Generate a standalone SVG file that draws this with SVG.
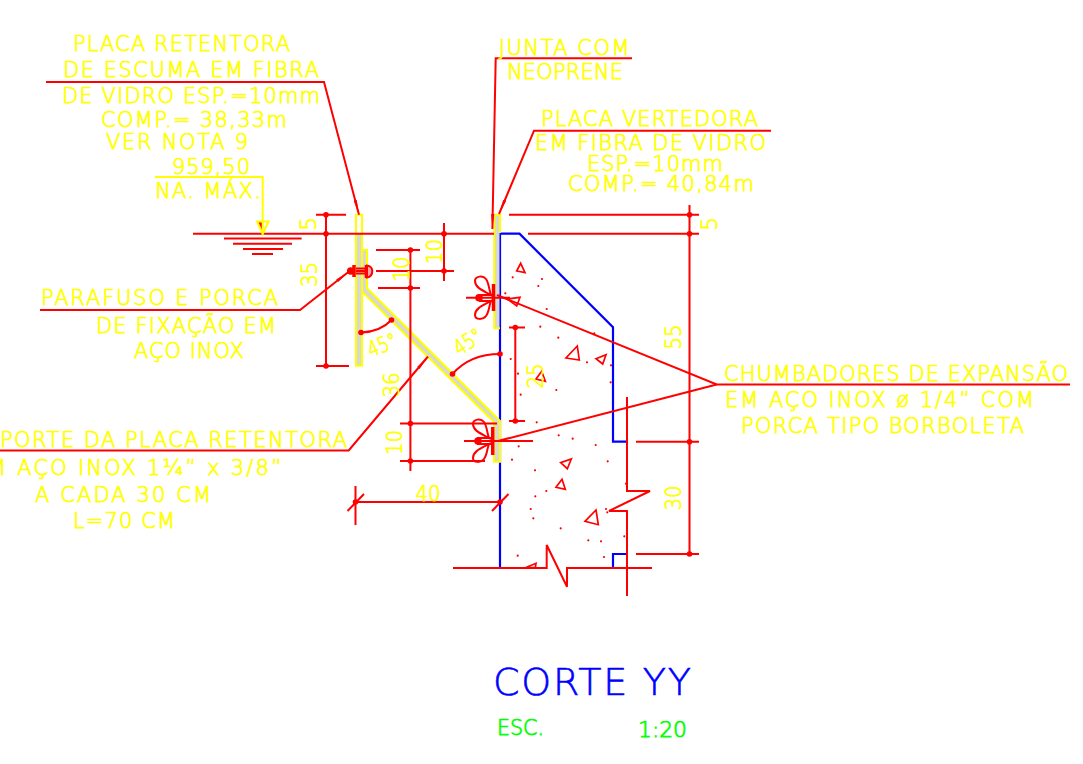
<svg xmlns="http://www.w3.org/2000/svg" width="1083" height="764" viewBox="0 0 1083 764">
<defs>
<style>
text{font-family:"DejaVu Sans","Liberation Sans",sans-serif;font-weight:200;fill:#ffff00;stroke:#ffff00;stroke-width:.75;font-size:21px}
.dim{font-size:21.5px;text-anchor:middle}
.ln{fill:none;stroke:#ff0000;stroke-width:2}
.blue{fill:none;stroke:#0000ff;stroke-width:2.2}
.plate{fill:#d8d8d8;stroke:#ffff00;stroke-width:2}
.yl{fill:none;stroke:#ffff00;stroke-width:2}
.tri{fill:none;stroke:#ff0000;stroke-width:1.7}
.d{fill:#ff0000}
.t-blue{font-size:38px;fill:#0000ff;stroke:#0000ff;stroke-width:.6}
.t-green{fill:#00ff00;stroke:#00ff00}
</style>
<marker id="arr" markerUnits="userSpaceOnUse" markerWidth="16" markerHeight="6" refX="15" refY="3" orient="auto"><path d="M0 1.4L15 3L0 4.6Z" fill="#ff0000"/></marker>
<g id="dot"><circle r="2.8" class="d"/></g>
<g id="pt"><circle r="1.1" class="d"/></g>
</defs>
<rect width="1083" height="764" fill="#ffffff"/>

<g id="concrete">
<path class="blue" d="M500 568V233.7H519.5L613 327.3V441.7H627"/>
<path class="blue" d="M613 568V554H627"/>
<g id="aggregate-triangles" class="tri">
<polygon points="520.7,263.3 525,272.7 516.7,271"/>
<polygon points="520,297.3 516.7,306 507.3,299"/>
<polygon points="577.3,346 579.3,360 566,358"/>
<polygon points="606,354.7 602.7,364 596,358.7"/>
<polygon points="541.7,371.3 545.3,381.3 536,379"/>
<polygon points="571.3,459 567.3,468.7 560.7,462.7"/>
<polygon points="562,479.3 565.3,489.3 556,487.3"/>
<polygon points="596,510 598.3,524.7 585,521.3"/>
<polygon points="536,563.3 535.3,567.7 525.3,567.7"/>
</g>
<g id="aggregate-dots">
<use href="#pt" x="512.7" y="277.3"/><use href="#pt" x="542" y="279"/><use href="#pt" x="538.3" y="286"/><use href="#pt" x="505.3" y="293.3"/><use href="#pt" x="546.7" y="309"/><use href="#pt" x="540.3" y="326.7"/><use href="#pt" x="558.3" y="337.7"/><use href="#pt" x="594.3" y="333.3"/><use href="#pt" x="510.7" y="359"/><use href="#pt" x="518" y="373.7"/><use href="#pt" x="520.7" y="394.7"/><use href="#pt" x="556.3" y="390"/><use href="#pt" x="587" y="362.3"/><use href="#pt" x="611" y="365.3"/><use href="#pt" x="610.7" y="382.3"/><use href="#pt" x="536.7" y="422.3"/><use href="#pt" x="558.7" y="435.3"/><use href="#pt" x="572.7" y="438.7"/>
<use href="#pt" x="518.7" y="446.3"/><use href="#pt" x="595.7" y="445"/><use href="#pt" x="512" y="459.7"/><use href="#pt" x="607.7" y="461.3"/><use href="#pt" x="535" y="470.3"/><use href="#pt" x="626" y="483.7"/><use href="#pt" x="535.3" y="496.3"/><use href="#pt" x="546.3" y="491"/><use href="#pt" x="530.7" y="509"/><use href="#pt" x="533.3" y="518.3"/><use href="#pt" x="560.7" y="528.3"/><use href="#pt" x="606" y="509"/><use href="#pt" x="607.3" y="512.3"/><use href="#pt" x="588.3" y="540.3"/><use href="#pt" x="601" y="541.3"/><use href="#pt" x="624.3" y="536.3"/><use href="#pt" x="604" y="557"/><use href="#pt" x="517.7" y="555.7"/>
</g>
<path class="ln" d="M453 568H546.7V545L567 586.7V568H652"/>
<path class="ln" d="M627 397V491H650L609 511H627V596"/>
</g>

<g id="plates">
<path fill="#d8d8d8" d="M356.5 233H361.5V365H356.5Z"/>
<rect class="yl" x="356" y="214.7" width="6" height="151"/>
<path class="plate" d="M362 250H367V288.3L500 421V461.7H494V422L362 291.7Z"/>
<path fill="#d8d8d8" d="M494.7 215H499.5V328H494.7Z"/>
<path class="yl" d="M500 233V214.7H494.3V328.3H500"/>
</g>

<g id="bolt-left" class="ln">
<path d="M354 265V277" stroke-width="3.5"/>
<path d="M356 268.5H366M356 271H366M356 273.5H366"/>
<path d="M366 265V278" stroke-width="2.6"/>
<path d="M367 265.5C374 266 374 276.5 367 277.5Z" fill="#ff0000" fill-opacity=".35"/>
<use href="#dot" x="350.7" y="271"/>
</g>
<g id="wingnut-top" class="ln">
<path d="M493.5 284V311" stroke-width="3.5"/>
<path d="M466 297.7H510"/>
<path d="M479 295H492M479 301H492"/>
<path d="M491 295C484 291 475 288 475 281C475 276 483 275 486 279C489 283 489 290 491 295Z"/>
<path d="M491 301C484 305 475 308 475 315C475 320 483 320 486 316C489 312 489 306 491 301Z"/>
<use href="#dot" x="479" y="297.7"/>
</g>
<g id="wingnut-bottom" class="ln">
<path d="M492.7 427V455" stroke-width="3.5"/>
<path d="M464 441H533"/>
<path d="M477 438H491M477 444H491"/>
<path d="M489 438C482 434 473 431 473 424C473 419 481 418 484 422C487 426 487 433 489 438Z"/>
<path d="M489 444C482 448 473 451 473 458C473 463 481 463 484 459C487 455 487 449 489 444Z"/>
<use href="#dot" x="478" y="441"/>
</g>

<g id="connectors">
<g class="ln">
<path d="M46 82H324L359 214.7" marker-end="url(#arr)"/>
<path d="M632 58.3H495.7L492.4 229" marker-end="url(#arr)"/>
<path d="M771 130.7H534L499 214" marker-end="url(#arr)"/>
<path d="M40 310H300L349 271.5" marker-end="url(#arr)"/>
<path d="M0 450.5H348.7L428 356.5" marker-end="url(#arr)"/>
<path d="M1070 384.5H716.7L497 295"/>
<path d="M716.7 384.5L498 441"/>
</g>
</g>

<g id="water-level">
<path class="ln" d="M193 233.7H494"/>
<path class="ln" d="M224 238.5H301.6M233 243.7H292M243 249H283M252 254H273"/>
<path fill="#ff0000" d="M258 222H262L262.7 232Z"/>
<path class="yl" d="M155 177H262.7V233"/>
<path class="yl" d="M257 221.5H268.5L262.7 234Z"/>
</g>

<g id="dimensions">
<g class="ln">
<path d="M316 214.7H346M326 214.7V366M316 366H349"/>
<path d="M444 223V281M376 271H454"/>
<path d="M410.4 250V471M376 250H420M378 288H420M400 423.5H497M400 461H485"/>
<path d="M515.3 327.5V421M509 327.5H525M509 421H525"/>
<path d="M689.5 205V556M509 214.7H699M528 233.7H699M636 441.7H699M636 554H699"/>
<path d="M355.5 502H500M355.5 486V525M347.5 511L364 494M492 511L508.5 494"/>
<path d="M361 332.5Q380 332 391.5 320"/>
<path d="M452.5 374Q470 354 500 354"/>
</g>
<use href="#dot" x="326" y="214.7"/><use href="#dot" x="326" y="233.7"/><use href="#dot" x="326" y="366"/>
<use href="#dot" x="444" y="233.7"/><use href="#dot" x="444" y="271"/>
<use href="#dot" x="410.4" y="250"/><use href="#dot" x="410.4" y="288"/><use href="#dot" x="410.4" y="423.5"/><use href="#dot" x="410.4" y="461"/>
<use href="#dot" x="515.3" y="327.5"/><use href="#dot" x="515.3" y="421"/>
<use href="#dot" x="689.5" y="214.7"/><use href="#dot" x="689.5" y="233.7"/><use href="#dot" x="689.5" y="441.7"/><use href="#dot" x="689.5" y="554"/>
<use href="#dot" x="355.5" y="502"/><use href="#dot" x="500" y="502"/>
<use href="#dot" x="361" y="332.5"/><use href="#dot" x="391.5" y="320"/><use href="#dot" x="452.5" y="374"/><use href="#dot" x="500" y="354"/>
<text class="dim" transform="translate(316 224) rotate(-90)">5</text>
<text class="dim" transform="translate(316.5 274.5) rotate(-90)" textLength="25" lengthAdjust="spacingAndGlyphs">35</text>
<text class="dim" transform="translate(409 269) rotate(-90)" textLength="25" lengthAdjust="spacingAndGlyphs">10</text>
<text class="dim" transform="translate(441.7 251.5) rotate(-90)" textLength="25" lengthAdjust="spacingAndGlyphs">10</text>
<text class="dim" transform="translate(399 385) rotate(-90)" textLength="25" lengthAdjust="spacingAndGlyphs">36</text>
<text class="dim" transform="translate(542.7 376) rotate(-90)" textLength="25" lengthAdjust="spacingAndGlyphs">25</text>
<text class="dim" transform="translate(681 337) rotate(-90)" textLength="25" lengthAdjust="spacingAndGlyphs">55</text>
<text class="dim" transform="translate(717 224) rotate(-90)">5</text>
<text class="dim" transform="translate(681 498) rotate(-90)" textLength="25" lengthAdjust="spacingAndGlyphs">30</text>
<text class="dim" transform="translate(402 442.5) rotate(-90)" textLength="25" lengthAdjust="spacingAndGlyphs">10</text>
<text class="dim" x="428" y="500.7" textLength="25" lengthAdjust="spacingAndGlyphs">40</text>
<text class="dim" transform="translate(385 352) rotate(-22)" textLength="30" lengthAdjust="spacingAndGlyphs">45°</text>
<text class="dim" transform="translate(472 348) rotate(-33)" textLength="30" lengthAdjust="spacingAndGlyphs">45°</text>
</g>

<g id="labels">
<g id="label-placa-retentora">
<text x="73" y="51" textLength="217">PLACA RETENTORA</text>
<text x="63" y="76.7" textLength="256">DE ESCUMA EM FIBRA</text>
<text x="62" y="102.7" textLength="258">DE VIDRO ESP.=10mm</text>
<text x="101" y="127" textLength="186">COMP.= 38,33m</text>
<text x="106" y="149" textLength="142">VER NOTA 9</text>
</g>
<g id="label-na-max">
<text x="172" y="174" textLength="78">959,50</text>
<text x="155" y="198" textLength="106">NA. MÁX.</text>
</g>
<g id="label-junta">
<text x="498.7" y="54.5" textLength="131">JUNTA COM</text>
<text x="507" y="79" textLength="116">NEOPRENE</text>
</g>
<g id="label-placa-vertedora">
<text x="541" y="125.7" textLength="217">PLACA VERTEDORA</text>
<text x="535" y="150" textLength="231">EM FIBRA DE VIDRO</text>
<text x="587" y="171" textLength="136">ESP.=10mm</text>
<text x="568" y="191" textLength="186">COMP.= 40,84m</text>
</g>
<g id="label-parafuso">
<text x="41" y="305" textLength="237">PARAFUSO E PORCA</text>
<text x="96" y="332.7" textLength="180">DE FIXAÇÃO EM</text>
<text x="134" y="357.7" textLength="110">AÇO INOX</text>
</g>
<g id="label-suporte">
<text x="0" y="446.7" textLength="347">PORTE DA PLACA RETENTORA</text>
<text x="-12" y="475" textLength="294">M AÇO INOX 1¼” x 3/8”</text>
<text x="35" y="501.7" textLength="176">A CADA 30 CM</text>
<text x="73" y="528" textLength="102">L=70 CM</text>
</g>
<g id="label-chumbadores">
<text x="724" y="380.7" textLength="344">CHUMBADORES DE EXPANSÃO</text>
<text x="725" y="407" textLength="309">EM AÇO INOX ø 1/4” COM</text>
<text x="741" y="432.7" textLength="283">PORCA TIPO BORBOLETA</text>
</g>
<g id="title">
<text class="t-blue" x="493" y="695" textLength="198">CORTE YY</text>
<text class="t-green" x="497" y="735" textLength="47" lengthAdjust="spacingAndGlyphs">ESC.</text>
<text class="t-green" x="638" y="736.7" textLength="49" lengthAdjust="spacingAndGlyphs">1:20</text>
</g>
</g>
</svg>
